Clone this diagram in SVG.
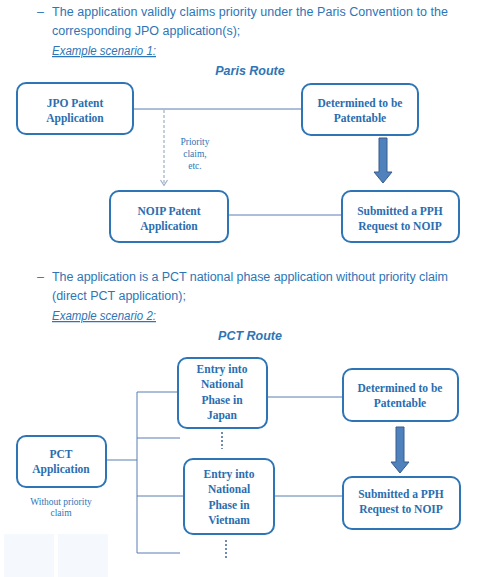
<svg xmlns="http://www.w3.org/2000/svg" width="500" height="577" viewBox="0 0 500 577">
<style>
.para{font-family:"Liberation Sans",Arial,sans-serif;font-size:12.5px;fill:#2e75b6;}
.ex{font-family:"Liberation Sans",Arial,sans-serif;font-size:12.5px;fill:#2e75b6;font-style:italic;text-decoration:underline;}
.route{font-family:"Liberation Sans",Arial,sans-serif;font-size:12.5px;fill:#2e75b6;font-style:italic;font-weight:bold;}
.box{fill:#ffffff;stroke:#2e75b6;stroke-width:2;}
.bt{font-family:"Liberation Serif","Times New Roman",serif;font-size:11.5px;font-weight:bold;fill:#2a6db0;text-anchor:middle;}
.st{font-family:"Liberation Serif","Times New Roman",serif;font-size:9.5px;fill:#2e75b6;text-anchor:middle;}
.ln{stroke:#5b7fb0;stroke-width:1;fill:none;}
.dash{stroke:#9dafc8;stroke-width:1.2;fill:none;stroke-dasharray:3 2;}
.dots{stroke:#6f8bb3;stroke-width:2;fill:none;stroke-dasharray:2 2;}
.big{fill:#4f81bd;stroke:#385d8a;stroke-width:1;}
</style>
<rect width="500" height="577" fill="#ffffff"/>
<!-- Paragraph 1 -->
<text class="para" x="37" y="16">–</text>
<text class="para" x="52" y="16" textLength="396" lengthAdjust="spacing">The application validly claims priority under the Paris Convention to the</text>
<text class="para" x="52" y="35">corresponding JPO application(s);</text>
<text class="ex" x="52" y="55" textLength="104" lengthAdjust="spacingAndGlyphs">Example scenario 1:</text>
<text class="route" x="250" y="75" text-anchor="middle">Paris Route</text>

<!-- Paragraph 2 -->
<text class="para" x="37" y="281">–</text>
<text class="para" x="52" y="281" textLength="396" lengthAdjust="spacing">The application is a PCT national phase application without priority claim</text>
<text class="para" x="52" y="300">(direct PCT application);</text>
<text class="ex" x="52" y="320" textLength="104" lengthAdjust="spacingAndGlyphs">Example scenario 2:</text>
<text class="route" x="250" y="340" text-anchor="middle">PCT Route</text>

<!-- Connectors -->
<g id="connectors">
  <line class="ln" x1="133" y1="109" x2="302" y2="109"/>
  <line class="dash" x1="164" y1="110" x2="164" y2="185"/>
  <polyline points="160.5,180 164,185.5 167.5,180" fill="none" stroke="#9dafc8" stroke-width="1.2"/>
  <text class="st" x="195" y="145">Priority</text>
  <text class="st" x="195" y="157">claim,</text>
  <text class="st" x="195" y="169">etc.</text>
  <line class="ln" x1="228" y1="215" x2="342" y2="215"/>
  <path class="big" d="M379,138 H387 V172 H392 L383,183 L374,172 H379 Z"/>

  <line class="ln" x1="106" y1="460" x2="137" y2="460"/>
  <line class="ln" x1="137" y1="392" x2="137" y2="553"/>
  <line class="ln" x1="137" y1="392" x2="178" y2="392"/>
  <line class="ln" x1="137" y1="438" x2="180" y2="438"/>
  <line class="ln" x1="137" y1="496" x2="184" y2="496"/>
  <line class="ln" x1="137" y1="553" x2="180" y2="553"/>
  <line class="dots" x1="222" y1="432" x2="222" y2="449"/>
  <line class="dots" x1="226" y1="540" x2="226" y2="558"/>
  <line class="ln" x1="267" y1="397" x2="343" y2="397"/>
  <line class="ln" x1="274" y1="496" x2="343" y2="496"/>
  <path class="big" d="M396,427 H404 V462 H409 L400,473 L391,462 H396 Z"/>
</g>

<!-- Paris route nodes -->
<g id="jpo">
  <rect class="box" x="17" y="83" width="116" height="51" rx="9"/>
  <text class="bt" x="75" y="107">JPO Patent</text>
  <text class="bt" x="75" y="122">Application</text>
</g>
<g id="determined1">
  <rect class="box" x="302" y="84" width="116" height="51" rx="9"/>
  <text class="bt" x="360" y="107">Determined to be</text>
  <text class="bt" x="360" y="122">Patentable</text>
</g>
<g id="noip">
  <rect class="box" x="110" y="191" width="118" height="51" rx="9"/>
  <text class="bt" x="169" y="215">NOIP Patent</text>
  <text class="bt" x="169" y="230">Application</text>
</g>
<g id="submitted1">
  <rect class="box" x="342" y="191" width="117" height="51" rx="9"/>
  <text class="bt" x="400" y="215">Submitted a PPH</text>
  <text class="bt" x="400" y="230">Request to NOIP</text>
</g>

<!-- PCT route nodes -->
<g id="pct">
  <rect class="box" x="17" y="436" width="89" height="51" rx="9"/>
  <text class="bt" x="61" y="458">PCT</text>
  <text class="bt" x="61" y="473">Application</text>
  <text class="st" x="61" y="505">Without priority</text>
  <text class="st" x="61" y="516">claim</text>
</g>
<g id="japan">
  <rect class="box" x="178" y="358" width="89" height="70" rx="9"/>
  <text class="bt" x="222" y="373">Entry into</text>
  <text class="bt" x="222" y="388">National</text>
  <text class="bt" x="222" y="404">Phase in</text>
  <text class="bt" x="222" y="419">Japan</text>
</g>
<g id="vietnam">
  <rect class="box" x="184" y="459" width="90" height="75" rx="9"/>
  <text class="bt" x="229" y="478">Entry into</text>
  <text class="bt" x="229" y="493">National</text>
  <text class="bt" x="229" y="509">Phase in</text>
  <text class="bt" x="229" y="524">Vietnam</text>
</g>
<g id="determined2">
  <rect class="box" x="343" y="369" width="115" height="52" rx="9"/>
  <text class="bt" x="400" y="392">Determined to be</text>
  <text class="bt" x="400" y="407">Patentable</text>
</g>
<g id="submitted2">
  <rect class="box" x="343" y="477" width="117" height="52" rx="9"/>
  <text class="bt" x="401" y="498">Submitted a PPH</text>
  <text class="bt" x="401" y="513">Request to NOIP</text>
</g>

<!-- faint background panels -->
<rect x="4" y="534" width="50" height="43" fill="#f5f8fc"/>
<rect x="58" y="534" width="50" height="43" fill="#f5f8fc"/>
</svg>
